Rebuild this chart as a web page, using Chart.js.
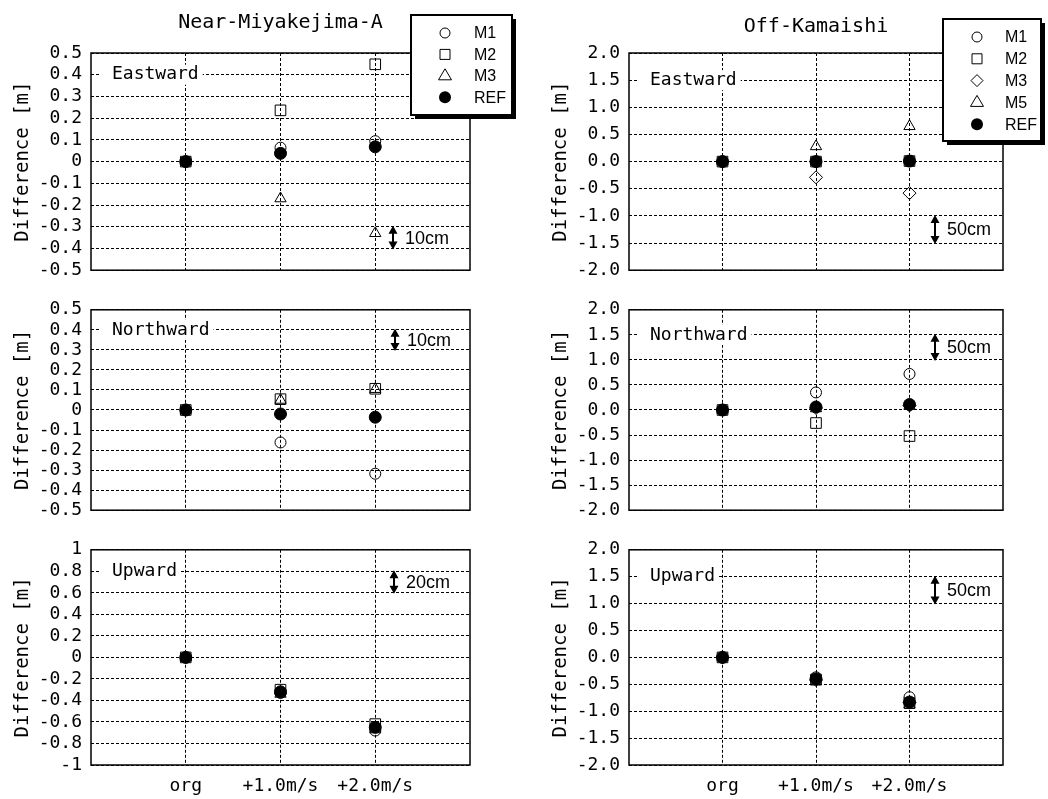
<!DOCTYPE html>
<html>
<head>
<meta charset="utf-8">
<script src="https://cdn.jsdelivr.net/npm/chart.js@4/dist/chart.umd.min.js"></script>
<style>
  body { margin: 0; background: #fff; }
  #wrap { position: relative; width: 1048px; height: 799px; }
  canvas { position: absolute; }
</style>
</head>
<body>
<div id="wrap">
  <canvas id="c1" width="520" height="290" style="left:0px;top:0px"></canvas>
  <canvas id="c2" width="520" height="240" style="left:0px;top:290px"></canvas>
  <canvas id="c3" width="520" height="269" style="left:0px;top:530px"></canvas>
  <canvas id="c4" width="528" height="290" style="left:520px;top:0px"></canvas>
  <canvas id="c5" width="528" height="240" style="left:520px;top:290px"></canvas>
  <canvas id="c6" width="528" height="269" style="left:520px;top:530px"></canvas>
</div>
<script>
var categories = ['org', '+1.0m/s', '+2.0m/s'];

// Near-Miyakejima-A
var miyEastM1 = [0, 0.064, 0.094];
var miyEastM2 = [0, 0.236, 0.448];
var miyEastM3 = [0, -0.17, -0.33];
var miyEastREF = [0, 0.038, 0.068];

var miyNorthM1 = [0, -0.162, -0.318];
var miyNorthM2 = [0, 0.054, 0.106];
var miyNorthM3 = [0, 0.05, 0.104];
var miyNorthREF = [0, -0.02, -0.036];

var miyUpM1 = [0, -0.33, -0.68];
var miyUpM2 = [0, -0.30, -0.62];
var miyUpM3 = [0, -0.34, -0.67];
var miyUpREF = [0, -0.32, -0.65];

// Off-Kamaishi
var kamEastM1 = [0, 0, 0.01];
var kamEastM2 = [0, 0, 0.01];
var kamEastM3 = [0, -0.29, -0.58];
var kamEastM5 = [0, 0.28, 0.65];
var kamEastREF = [0, 0, 0.01];

var kamNorthM1 = [0, 0.35, 0.72];
var kamNorthM2 = [0, -0.26, -0.52];
var kamNorthM3 = [0, 0.04, 0.09];
var kamNorthM5 = [0, 0.03, 0.08];
var kamNorthREF = [0, 0.06, 0.11];

var kamUpM1 = [0, -0.37, -0.74];
var kamUpM2 = [0, -0.41, -0.85];
var kamUpM3 = [0, -0.42, -0.84];
var kamUpM5 = [0, -0.45, -0.88];
var kamUpREF = [0, -0.40, -0.83];

var MONO = '"DejaVu Sans Mono", "Liberation Mono", monospace';
var SANS = '"Liberation Sans", Arial, sans-serif';
var NARROW = '"Liberation Sans Narrow", "Liberation Sans", Arial, sans-serif';

function drawMarker(ctx, style, x, y) {
  ctx.beginPath();
  if (style === 'circle') {
    ctx.arc(x, y, 5, 0, Math.PI * 2);
  } else if (style === 'rect') {
    ctx.rect(x - 5, y - 5, 10, 10);
  } else if (style === 'rectRot') {
    ctx.moveTo(x, y - 6); ctx.lineTo(x + 6, y); ctx.lineTo(x, y + 6); ctx.lineTo(x - 6, y); ctx.closePath();
  } else if (style === 'triangle') {
    ctx.moveTo(x, y - 7); ctx.lineTo(x + 6.5, y + 4); ctx.lineTo(x - 6.5, y + 4); ctx.closePath();
  } else {
    ctx.arc(x, y, 6, 0, Math.PI * 2);
    ctx.fill();
    return;
  }
  ctx.stroke();
}

var panelPlugin = {
  id: 'panel',
  afterDraw: function (chart, args, o) {
    var ctx = chart.ctx, a = chart.chartArea, ys = chart.scales.y;
    ctx.save();
    ctx.strokeStyle = '#000';
    ctx.fillStyle = '#000';

    // frame
    ctx.lineWidth = 1.5;
    ctx.strokeRect(a.left, a.top, a.right - a.left, a.bottom - a.top);

    // component label
    ctx.font = '18px ' + MONO;
    ctx.textBaseline = 'middle';
    var ly = ys.getPixelForValue(o.labelAt);
    var w = ctx.measureText(o.label).width;
    ctx.fillStyle = '#fff';
    ctx.fillRect(a.left + 9, ly - 10, w + 16, 20);
    ctx.fillStyle = '#000';
    ctx.fillText(o.label, a.left + 21, ly);

    // scale arrow
    var ax = a.right - o.arrowOff;
    var y1 = ys.getPixelForValue(o.arrowFrom), y2 = ys.getPixelForValue(o.arrowTo);
    ctx.font = '18px ' + SANS;
    var tw = ctx.measureText(o.arrowText).width;
    var my = (y1 + y2) / 2;
    ctx.fillStyle = '#fff';
    ctx.fillRect(ax + 10, my - 9, tw + 5, 18);
    ctx.fillStyle = '#000';
    ctx.fillText(o.arrowText, ax + 12, my + 1);
    ctx.lineWidth = 2;
    ctx.beginPath();
    ctx.moveTo(ax, y1 + 4); ctx.lineTo(ax, y2 - 4);
    ctx.stroke();
    ctx.beginPath();
    ctx.moveTo(ax, y1 - 1); ctx.lineTo(ax + 4.5, y1 + 7); ctx.lineTo(ax - 4.5, y1 + 7); ctx.closePath();
    ctx.moveTo(ax, y2 + 1); ctx.lineTo(ax + 4.5, y2 - 7); ctx.lineTo(ax - 4.5, y2 - 7); ctx.closePath();
    ctx.fill();

    // station title
    if (o.title) {
      ctx.font = '20px ' + MONO;
      ctx.textAlign = 'center';
      ctx.fillText(o.title, (a.left + a.right) / 2, o.titleY);
      ctx.textAlign = 'left';
    }

    // legend box
    if (o.legend) {
      var L = o.legend;
      ctx.fillRect(L.x + 4, L.y + 4, L.w, L.h);
      ctx.fillStyle = '#fff';
      ctx.fillRect(L.x, L.y, L.w, L.h);
      ctx.lineWidth = 2;
      ctx.strokeRect(L.x, L.y, L.w, L.h);
      ctx.fillStyle = '#000';
      ctx.lineWidth = 1;
      ctx.font = '16px ' + NARROW;
      L.items.forEach(function (it, i) {
        var yy = L.rowY + i * L.step;
        drawMarker(ctx, it[0], L.markerX, yy);
        ctx.fillText(it[1], L.textX, yy + 1);
      });
    }
    ctx.restore();
  }
};

function series(label, values, style, radius, order) {
  var filled = style === 'ref';
  return {
    label: label,
    data: values.map(function (v, i) { return { x: i + 1, y: v }; }),
    pointStyle: filled ? 'circle' : style,
    pointRadius: radius,
    pointBorderWidth: 1,
    pointBorderColor: '#000',
    pointBackgroundColor: filled ? '#000' : 'rgba(0,0,0,0)',
    showLine: false,
    order: order
  };
}

function makePanel(id, datasets, p) {
  var left = p.col === 0;
  var rowTop = [53, 12, 17][p.row];
  var xHeight = [19, 11, 34][p.row];
  var fmt = left
    ? function (v) { return String(Math.round(v * 10) / 10); }
    : function (v) { return (Math.round(v * 10) / 10).toFixed(1); };
  return new Chart(document.getElementById(id), {
    type: 'scatter',
    data: { datasets: datasets },
    options: {
      responsive: false,
      animation: false,
      events: [],
      layout: { padding: { top: rowTop, bottom: 0, left: 0, right: left ? 50 : 45 } },
      plugins: {
        legend: { display: false },
        tooltip: { enabled: false },
        panel: p.ann
      },
      scales: {
        x: {
          type: 'linear',
          min: 0,
          max: 4,
          afterBuildTicks: function (s) { s.ticks = [{ value: 1 }, { value: 2 }, { value: 3 }]; },
          afterFit: function (s) { s.height = xHeight; },
          grid: { color: '#000', lineWidth: 1, drawTicks: false },
          border: { display: false, dash: [3, 2] },
          ticks: {
            display: p.row === 2,
            autoSkip: false,
            maxRotation: 0,
            color: '#000',
            padding: 11,
            font: { family: MONO, size: 18 },
            callback: function (v) { return categories[v - 1]; }
          }
        },
        y: {
          min: p.min,
          max: p.max,
          afterFit: function (s) { s.width = left ? 91 : 109; },
          grid: { color: '#000', lineWidth: 1, drawTicks: false },
          border: { display: false, dash: [3, 2] },
          ticks: {
            stepSize: p.step,
            autoSkip: false,
            color: '#000',
            padding: 9,
            font: { family: MONO, size: 18 },
            callback: fmt
          },
          title: {
            display: true,
            text: 'Difference [m]',
            color: '#000',
            font: { family: MONO, size: 19 },
            padding: { top: left ? 12 : 30, bottom: 0 }
          }
        }
      }
    },
    plugins: [panelPlugin]
  });
}

var legendMiy = {
  x: 411, y: 15, w: 101, h: 100, markerX: 445, textX: 474, rowY: 33, step: 21.4,
  items: [['circle', 'M1'], ['rect', 'M2'], ['triangle', 'M3'], ['ref', 'REF']]
};
var legendKam = {
  x: 423, y: 19, w: 98, h: 122, markerX: 457, textX: 485, rowY: 37, step: 21.8,
  items: [['circle', 'M1'], ['rect', 'M2'], ['rectRot', 'M3'], ['triangle', 'M5'], ['ref', 'REF']]
};

function miySet(m1, m2, m3, ref) {
  return [
    series('REF', ref, 'ref', 6, 0),
    series('M1', m1, 'circle', 5.5, 1),
    series('M2', m2, 'rect', 7.5, 2),
    series('M3', m3, 'triangle', 6.5, 3)
  ];
}
function kamSet(m1, m2, m3, m5, ref) {
  return [
    series('REF', ref, 'ref', 6, 0),
    series('M1', m1, 'circle', 5.5, 1),
    series('M2', m2, 'rect', 7.5, 2),
    series('M3', m3, 'rectRot', 6.5, 3),
    series('M5', m5, 'triangle', 6.5, 4)
  ];
}

makePanel('c1', miySet(miyEastM1, miyEastM2, miyEastM3, miyEastREF), {
  col: 0, row: 0, min: -0.5, max: 0.5, step: 0.1,
  ann: { label: 'Eastward', labelAt: 0.4, arrowOff: 77, arrowFrom: -0.3, arrowTo: -0.4, arrowText: '10cm',
         title: 'Near-Miyakejima-A', titleY: 23, legend: legendMiy }
});
makePanel('c2', miySet(miyNorthM1, miyNorthM2, miyNorthM3, miyNorthREF), {
  col: 0, row: 1, min: -0.5, max: 0.5, step: 0.1,
  ann: { label: 'Northward', labelAt: 0.4, arrowOff: 75, arrowFrom: 0.4, arrowTo: 0.3, arrowText: '10cm' }
});
makePanel('c3', miySet(miyUpM1, miyUpM2, miyUpM3, miyUpREF), {
  col: 0, row: 2, min: -1, max: 1, step: 0.2,
  ann: { label: 'Upward', labelAt: 0.8, arrowOff: 76, arrowFrom: 0.8, arrowTo: 0.6, arrowText: '20cm' }
});
makePanel('c4', kamSet(kamEastM1, kamEastM2, kamEastM3, kamEastM5, kamEastREF), {
  col: 1, row: 0, min: -2, max: 2, step: 0.5,
  ann: { label: 'Eastward', labelAt: 1.5, arrowOff: 68, arrowFrom: -1.0, arrowTo: -1.5, arrowText: '50cm',
         title: 'Off-Kamaishi', titleY: 27, legend: legendKam }
});
makePanel('c5', kamSet(kamNorthM1, kamNorthM2, kamNorthM3, kamNorthM5, kamNorthREF), {
  col: 1, row: 1, min: -2, max: 2, step: 0.5,
  ann: { label: 'Northward', labelAt: 1.5, arrowOff: 68, arrowFrom: 1.5, arrowTo: 1.0, arrowText: '50cm' }
});
makePanel('c6', kamSet(kamUpM1, kamUpM2, kamUpM3, kamUpM5, kamUpREF), {
  col: 1, row: 2, min: -2, max: 2, step: 0.5,
  ann: { label: 'Upward', labelAt: 1.5, arrowOff: 68, arrowFrom: 1.5, arrowTo: 1.0, arrowText: '50cm' }
});
</script>
</body>
</html>
